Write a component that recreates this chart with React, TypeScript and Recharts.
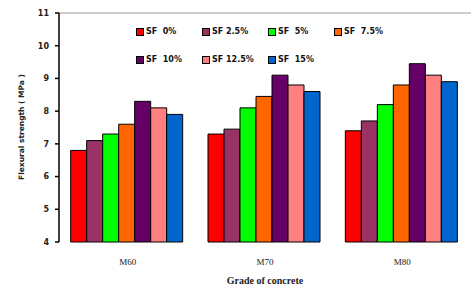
import {
  BarChart,
  Bar,
  XAxis,
  YAxis,
  ReferenceLine,
} from 'recharts'

const grades = ['M60', 'M70', 'M80']
const seriesNames = ['SF  0%', 'SF 2.5%', 'SF  5%', 'SF  7.5%', 'SF  10%', 'SF 12.5%', 'SF  15%']
const seriesColors = ['#ff0000', '#993366', '#00ff00', '#ff6600', '#660066', '#ff8080', '#0066cc']
const sf0 = [6.8, 7.3, 7.4]
const sf25 = [7.1, 7.45, 7.7]
const sf5 = [7.3, 8.1, 8.2]
const sf75 = [7.6, 8.45, 8.8]
const sf10 = [8.3, 9.1, 9.45]
const sf125 = [8.1, 8.8, 9.1]
const sf15 = [7.9, 8.6, 8.9]
const yTicks = [4, 5, 6, 7, 8, 9, 10, 11]

const seriesValues = [sf0, sf25, sf5, sf75, sf10, sf125, sf15]
const keys = ['s0', 's1', 's2', 's3', 's4', 's5', 's6']

const chartData = grades.map((g, i) => {
  const row: Record<string, string | number> = { grade: g }
  keys.forEach((k, j) => {
    row[k] = seriesValues[j][i]
  })
  return row
})

// legend sits inside the plot, so it is an overlay and takes no space
const LegendBox = () => (
  <div
    style={{
      position: 'absolute',
      left: 136,
      top: 27,
      display: 'grid',
      gridTemplateColumns: '66px 66px 66px 66px',
      rowGap: 19,
      fontFamily: 'DejaVu Sans, sans-serif',
      fontWeight: 'bold',
      fontSize: 8,
      color: '#111',
    }}
  >
    {seriesNames.map((n, i) => (
      <div key={n} style={{ display: 'flex', alignItems: 'center', gap: 2, whiteSpace: 'pre' }}>
        <div style={{ width: 6, height: 6, background: seriesColors[i], border: '1px solid #000' }} />
        <span>{n}</span>
      </div>
    ))}
  </div>
)

export default function App() {
  return (
    <div style={{ position: 'absolute', left: 0, top: 0, width: 472, height: 285, background: '#fff' }}>
      <BarChart
        width={472}
        height={285}
        data={chartData}
        margin={{ top: 13, right: 1, left: 0, bottom: 0 }}
        barCategoryGap="8.5%"
        barGap={0}
      >
        <XAxis
          xAxisId="grid"
          type="number"
          domain={[0, 3]}
          ticks={[0, 1, 2, 3]}
          allowDataOverflow
          height={0}
          tick={false}
          tickSize={5}
          axisLine={{ stroke: '#000', strokeWidth: 1.5 }}
          tickLine={{ stroke: '#000', strokeWidth: 1.5 }}
        />
        <XAxis
          xAxisId="cat"
          dataKey="grade"
          height={43}
          axisLine={false}
          tickLine={false}
          tickMargin={11}
          tick={{ fontFamily: 'Liberation Serif, serif', fontSize: 9, fill: '#222' }}
          label={{
            value: 'Grade of concrete',
            position: 'insideBottom',
            offset: 1,
            style: { fontFamily: 'Liberation Serif, serif', fontWeight: 'bold', fontSize: 10, fill: '#222' },
          }}
        />
        <YAxis
          domain={[4, 11]}
          ticks={yTicks}
          width={59}
          tickSize={4}
          tickMargin={6}
          axisLine={{ stroke: '#000', strokeWidth: 1.5 }}
          tickLine={{ stroke: '#000', strokeWidth: 1.5 }}
          tick={{ fontFamily: 'DejaVu Sans, sans-serif', fontWeight: 'bold', fontSize: 8, fill: '#222' }}
          label={() => (
            <text
              x={22}
              y={127}
              transform="rotate(-90 22 127)"
              textAnchor="middle"
              dominantBaseline="middle"
              style={{ fontFamily: 'DejaVu Sans, sans-serif', fontWeight: 'bold', fontSize: 7.5, fill: '#222' }}
            >
              Flexural strength ( MPa )
            </text>
          )}
        />
        <ReferenceLine xAxisId="cat" y={11} stroke="#999" strokeWidth={1} />
        {keys.map((k, i) => (
          <Bar
            key={k}
            xAxisId="cat"
            dataKey={k}
            name={seriesNames[i]}
            fill={seriesColors[i]}
            stroke="#000"
            strokeWidth={1}
            isAnimationActive={false}
          />
        ))}
      </BarChart>
      <LegendBox />
    </div>
  )
}
